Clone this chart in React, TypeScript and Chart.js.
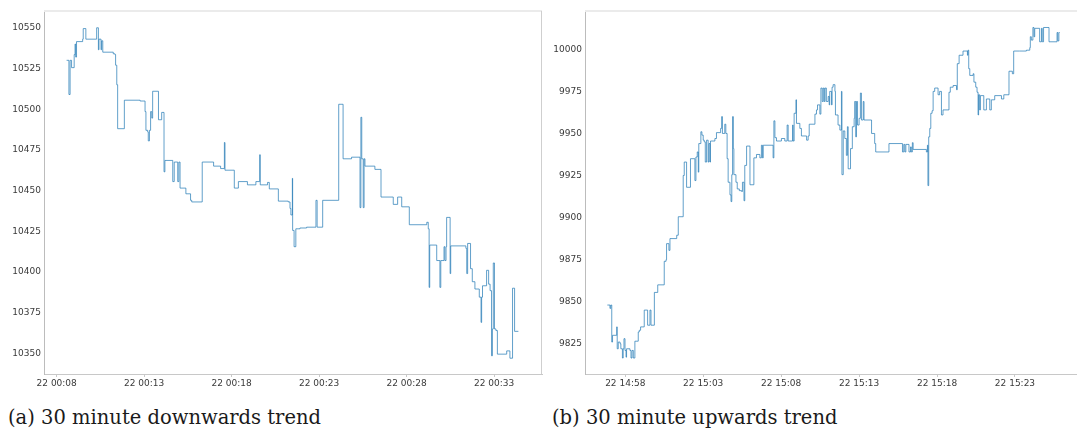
import React, { useEffect, useRef } from "react";
import { Chart, registerables } from "chart.js";

Chart.register(...registerables);

// Panel (a): prices for the downward half hour, seconds after 22 00:08:00
const DOWN_SECONDS = [
  34, 42, 46, 51, 60, 63, 65, 68, 89, 91,
  100, 137, 143, 145, 152, 154, 158, 194, 200, 202,
  206, 209, 232, 286, 303, 306, 312, 314, 318, 322,
  326, 329, 349, 360, 368, 371, 398, 403, 415, 419,
  423, 443, 459, 463, 499, 538, 562, 575, 577, 609,
  623, 654, 683, 696, 698, 723, 729, 760, 794, 800,
  803, 808, 809, 814, 820, 834, 857, 889, 893, 912,
  967, 982, 1011, 1040, 1043, 1046, 1051, 1054, 1057, 1091,
  1112, 1154, 1169, 1183, 1209, 1269, 1274, 1277, 1279, 1303,
  1314, 1317, 1328, 1331, 1335, 1337, 1349, 1351, 1403, 1406,
  1409, 1419, 1425, 1434, 1449, 1455, 1457, 1460, 1474, 1481,
  1486, 1491, 1494, 1497, 1501, 1506, 1511, 1543, 1554, 1563,
  1570, 1583,
];
const DOWN_PRICES = [
  10530, 10509, 10530, 10525.5, 10533.5, 10540, 10532, 10541.5, 10543, 10549.5,
  10543, 10550, 10536.5, 10543, 10536.5, 10542, 10535, 10534, 10533.5, 10527,
  10515, 10488, 10505.5, 10505, 10498.5, 10487, 10486, 10480.5, 10487, 10498.5,
  10494.5, 10511, 10493.5, 10498, 10461.5, 10468.5, 10455.5, 10467.5, 10455.5, 10467.5,
  10451.5, 10448, 10444, 10443, 10467.5, 10465, 10463.5, 10479.5, 10462.5, 10451.5,
  10455.5, 10453.5, 10455.5, 10472, 10453.5, 10455, 10451, 10443.5, 10443, 10439,
  10435, 10457.5, 10425.5, 10415.5, 10426.5, 10427, 10427.5, 10444, 10427.5, 10444,
  10503, 10469.5, 10470.5, 10439.5, 10495, 10469.5, 10439.5, 10469.5, 10465, 10463,
  10446, 10441.5, 10446, 10440, 10429, 10430.5, 10426.5, 10390.5, 10416.5, 10407,
  10390.5, 10407, 10415.5, 10407, 10415.5, 10433.5, 10399, 10416, 10414.5, 10399,
  10417.5, 10402, 10394, 10389.5, 10384.5, 10369, 10384.5, 10391.5, 10401, 10392.5,
  10388.5, 10348.5, 10365, 10405.5, 10365, 10364, 10349.5, 10351.5, 10347, 10390,
  10363.5, 10363.5,
];
const DOWN_TICK_SECONDS = [0, 300, 600, 900, 1200, 1500];
const DOWN_TICK_LABELS = ["22 00:08", "22 00:13", "22 00:18", "22 00:23", "22 00:28", "22 00:33"];
const DOWN_Y_TICKS = [10350, 10375, 10400, 10425, 10450, 10475, 10500, 10525, 10550];

// Panel (b): prices for the upward half hour, seconds after 22 14:55:00
const UP_SECONDS = [
  111, 121, 124, 128, 131, 147, 149, 153, 160, 163,
  169, 172, 175, 179, 183, 185, 198, 202, 206, 211,
  217, 230, 234, 239, 253, 266, 275, 279, 292, 305,
  330, 337, 339, 348, 352, 378, 384, 403, 407, 416,
  431, 448, 452, 457, 461, 463, 471, 475, 480, 484,
  488, 493, 499, 502, 506, 508, 525, 531, 547, 551,
  554, 563, 567, 572, 576, 583, 587, 590, 593, 596,
  598, 606, 611, 619, 628, 631, 637, 640, 647, 660,
  675, 685, 698, 704, 708, 711, 749, 752, 756, 762,
  781, 794, 803, 807, 824, 826, 830, 837, 839, 852,
  858, 878, 884, 888, 910, 916, 920, 929, 933, 938,
  942, 946, 949, 954, 961, 965, 967, 974, 976, 980,
  987, 989, 999, 1006, 1012, 1014, 1019, 1025, 1031, 1035,
  1038, 1047, 1054, 1061, 1063, 1067, 1070, 1074, 1080, 1085,
  1089, 1096, 1099, 1128, 1140, 1144, 1195, 1247, 1252, 1256,
  1260, 1272, 1278, 1281, 1285, 1288, 1339, 1343, 1345, 1348,
  1352, 1356, 1361, 1365, 1371, 1384, 1390, 1397, 1403, 1426,
  1431, 1442, 1455, 1458, 1465, 1480, 1497, 1499, 1502, 1506,
  1519, 1522, 1529, 1534, 1538, 1540, 1544, 1547, 1560, 1570,
  1583, 1589, 1602, 1628, 1637, 1657, 1670, 1675, 1698, 1724,
  1737, 1739, 1743, 1749, 1753, 1756, 1775, 1782, 1785, 1790,
  1811, 1842, 1845, 1849, 1852,
];
const UP_PRICES = [
  9848, 9846, 9848, 9826, 9830, 9835, 9822, 9826, 9825, 9822,
  9816.5, 9822, 9828, 9821, 9817, 9822, 9821, 9816.5, 9821, 9816.5,
  9826.5, 9832, 9833, 9835, 9845, 9836, 9845, 9836, 9855.5, 9860,
  9874, 9875, 9884.5, 9880.5, 9887.5, 9889.5, 9900.5, 9925, 9933, 9918,
  9935, 9922, 9936, 9939, 9927, 9944, 9951, 9949, 9946, 9945,
  9933, 9946, 9933, 9944, 9933, 9945.5, 9947, 9950.5, 9953, 9960,
  9950, 9955.5, 9950, 9935, 9921, 9913.5, 9909.5, 9925.5, 9960, 9941,
  9925.5, 9921, 9917, 9916, 9915.5, 9921, 9910, 9931, 9942.5, 9919.5,
  9935.5, 9937.5, 9935.5, 9943, 9935.5, 9943, 9935.5, 9957.5, 9947.5, 9945.5,
  9947, 9945.5, 9955, 9945.5, 9955, 9945.5, 9962, 9970, 9956, 9953,
  9948.5, 9946, 9948.5, 9955.5, 9961.5, 9964, 9967, 9961.5, 9977, 9969,
  9977, 9969, 9977, 9969, 9972, 9967, 9975, 9967, 9977.5, 9979,
  9975, 9961, 9955, 9952, 9975, 9925.5, 9951.5, 9947, 9937, 9954,
  9929, 9941, 9954, 9959, 9969, 9948, 9969, 9955, 9959, 9974,
  9958, 9969, 9958, 9950, 9944, 9939, 9944, 9939, 9943.5, 9939,
  9943.5, 9939, 9942, 9939, 9944.5, 9940.5, 9939, 9943, 9919, 9948,
  9953, 9962, 9963.5, 9975, 9977, 9973, 9975, 9961, 9964, 9974.5,
  9977.5, 9978.5, 9976, 9991.5, 9996.5, 9999, 9996.5, 9999.5, 9988.5, 9984.5,
  9985.5, 9980.5, 9977.5, 9974.5, 9961, 9973, 9964, 9972.5, 9964, 9970.5,
  9964, 9970, 9972.5, 9970.5, 9973, 9987, 9985.5, 9999, 9999, 9999.5,
  10001, 10007.5, 10005.5, 10013, 10007.5, 10012.5, 10004.5, 10012.5, 10004.5, 10013,
  10004.5, 10010, 10005, 10010, 10010,
];
const UP_TICK_SECONDS = [180, 480, 780, 1080, 1380, 1680];
const UP_TICK_LABELS = ["22 14:58", "22 15:03", "22 15:08", "22 15:13", "22 15:18", "22 15:23"];
const UP_Y_TICKS = [9825, 9850, 9875, 9900, 9925, 9950, 9975, 10000];

const LINE_COLOR = "rgba(31,119,180,0.7)";
const TICK_FONT = { family: "DejaVu Sans", size: 9 };
const TICK_COLOR = "#3a3a3a";

// Light frame on the top and right of the plot area
const framePlugin = {
  id: "frameTopRight",
  afterDraw(chart: any) {
    const { ctx, chartArea } = chart;
    const { left, right, top, bottom } = chartArea;
    ctx.save();
    ctx.lineWidth = 2;
    ctx.strokeStyle = "#ebebeb";
    ctx.beginPath();
    ctx.moveTo(left, top);
    ctx.lineTo(right, top);
    ctx.stroke();
    ctx.lineWidth = 1;
    ctx.strokeStyle = "#cfcfcf";
    ctx.beginPath();
    ctx.moveTo(right - 0.5, top);
    ctx.lineTo(right - 0.5, bottom);
    ctx.stroke();
    ctx.restore();
  },
};

type PanelProps = {
  width: number;
  height: number;
  yAxisWidth: number;
  padRight: number;
  seconds: number[];
  prices: number[];
  tickSeconds: number[];
  tickLabels: string[];
  yTicks: number[];
  xMin: number;
  xMax: number;
  yMin: number;
  yMax: number;
};

function PricePanel(p: PanelProps) {
  const ref = useRef<HTMLCanvasElement | null>(null);

  useEffect(() => {
    if (!ref.current) return;
    const points = p.seconds.map((s, i) => ({ x: s, y: p.prices[i] }));
    const chart = new Chart(ref.current, {
      type: "line",
      data: {
        datasets: [
          {
            data: points,
            borderColor: LINE_COLOR,
            borderWidth: 1,
            pointRadius: 0,
            stepped: true,
            fill: false,
          },
        ],
      },
      options: {
        animation: false,
        responsive: false,
        maintainAspectRatio: false,
        devicePixelRatio: 1,
        events: [],
        layout: { padding: { top: 11, right: p.padRight, left: 0, bottom: 0 } },
        plugins: { legend: { display: false }, tooltip: { enabled: false } },
        scales: {
          x: {
            type: "linear",
            min: p.xMin,
            max: p.xMax,
            afterBuildTicks: (scale: any) => {
              scale.ticks = p.tickSeconds.map((v) => ({ value: v }));
            },
            afterFit: (scale: any) => {
              scale.height = 21;
            },
            ticks: {
              autoSkip: false,
              maxRotation: 0,
              font: TICK_FONT,
              color: TICK_COLOR,
              padding: 1,
              callback: (_v: any, i: number) => p.tickLabels[i],
            },
            grid: { drawOnChartArea: false, tickLength: 3, color: "#c8c8c8" },
            border: { color: "#c8c8c8" },
          },
          y: {
            type: "linear",
            min: p.yMin,
            max: p.yMax,
            afterBuildTicks: (scale: any) => {
              scale.ticks = p.yTicks.map((v) => ({ value: v }));
            },
            afterFit: (scale: any) => {
              scale.width = p.yAxisWidth;
            },
            ticks: {
              font: TICK_FONT,
              color: TICK_COLOR,
              padding: 3,
              callback: (v: any) => String(v),
            },
            grid: { drawOnChartArea: false, drawTicks: false },
            border: { color: "#bcbcbc" },
          },
        },
      },
      plugins: [framePlugin],
    } as any);
    return () => chart.destroy();
  }, []);

  return <canvas ref={ref} width={p.width} height={p.height} style={{ display: "block" }} />;
}

const captionStyle: React.CSSProperties = {
  position: "absolute",
  top: 406,
  fontFamily: "'DejaVu Serif', serif",
  fontSize: 19.5,
  lineHeight: "24px",
  color: "#1a1a1a",
  whiteSpace: "nowrap",
};

export default function App() {
  return (
    <div
      style={{
        position: "fixed",
        left: 0,
        top: 0,
        width: 1077,
        height: 431,
        overflow: "hidden",
        background: "#ffffff",
      }}
    >
      <div style={{ position: "absolute", left: 0, top: 0 }}>
        <PricePanel
          width={545}
          height={395}
          yAxisWidth={44}
          padRight={3}
          seconds={DOWN_SECONDS}
          prices={DOWN_PRICES}
          tickSeconds={DOWN_TICK_SECONDS}
          tickLabels={DOWN_TICK_LABELS}
          yTicks={DOWN_Y_TICKS}
          xMin={-43.5}
          xMax={1664}
          yMin={10337.3}
          yMax={10560.3}
        />
      </div>
      <div style={{ position: "absolute", left: 545, top: 0 }}>
        <PricePanel
          width={535}
          height={395}
          yAxisWidth={40}
          padRight={2}
          seconds={UP_SECONDS}
          prices={UP_PRICES}
          tickSeconds={UP_TICK_SECONDS}
          tickLabels={UP_TICK_LABELS}
          yTicks={UP_Y_TICKS}
          xMin={25}
          xMax={1922.6}
          yMin={9807}
          yMax={10022.8}
        />
      </div>
      <div style={{ ...captionStyle, left: 8 }}>(a) 30 minute downwards trend</div>
      <div style={{ ...captionStyle, left: 552 }}>(b) 30 minute upwards trend</div>
    </div>
  );
}
